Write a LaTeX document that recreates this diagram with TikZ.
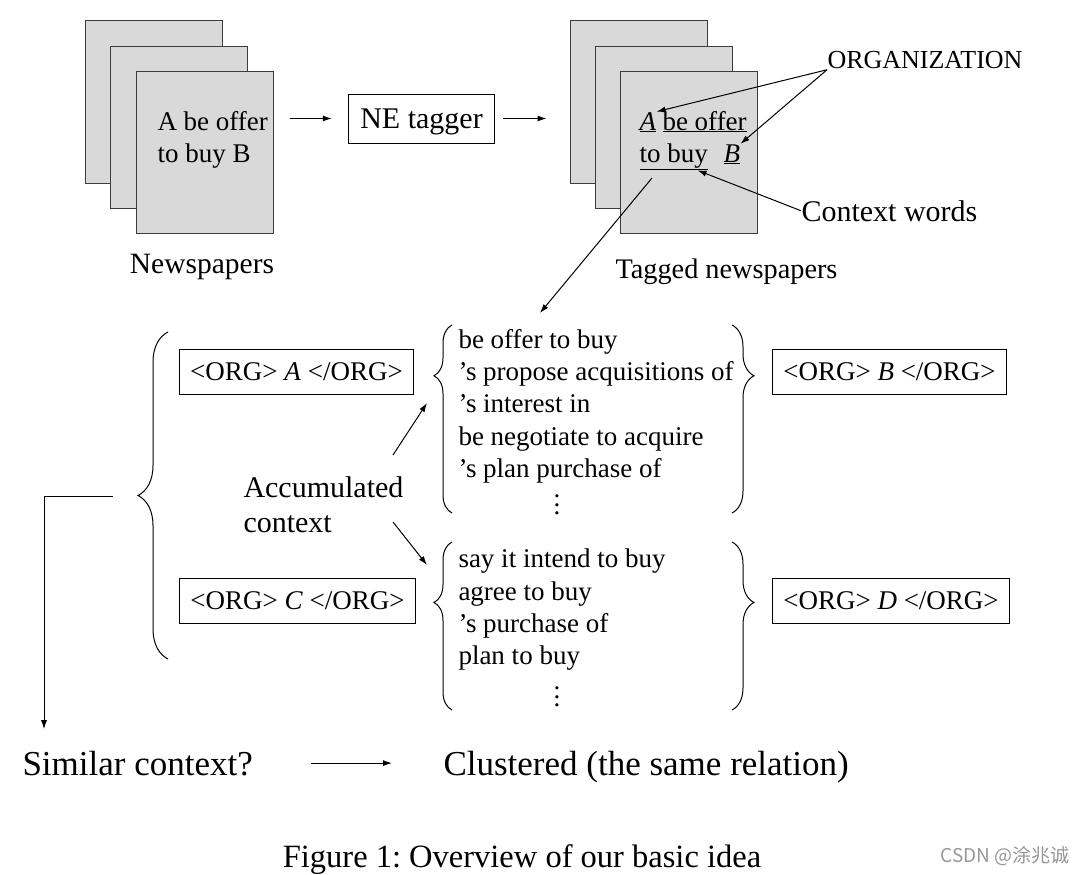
\documentclass[tikz,border=0pt]{standalone}
\usepackage{fontspec}
\setmainfont{Liberation Serif}
\newfontfamily\cjkfont{Noto Sans CJK SC}
\usetikzlibrary{arrows.meta,decorations.pathreplacing}

\definecolor{pagefill}{RGB}{217,217,217}
\definecolor{pageline}{RGB}{60,60,60}
\definecolor{markgray}{RGB}{150,150,150}

\newcommand{\fsize}[2]{\fontsize{#1}{#2}\selectfont}
\newcommand{\colvdots}{\vbox{\baselineskip8.5pt\lineskiplimit0pt\hbox{.}\hbox{.}\hbox{.}}}
\frenchspacing

\tikzset{
	page/.style={draw=pageline, fill=pagefill, minimum width=137pt, minimum height=162pt, inner sep=0pt},
	tagbox/.style={draw, minimum height=45pt, inner xsep=11pt, font=\fsize{27}{32}},
	txt/.style={inner sep=0pt, anchor=base west},
	arr/.style={-{Latex[length=9pt,width=6pt]}},
	brc/.style n args={2}{decorate, decoration={brace, amplitude=#1, aspect=#2}},
}

\begin{document}
\begin{tikzpicture}[x=1pt,y=-1pt,line width=1pt]
	
	\useasboundingbox (0,0) rectangle (1087,875);
	
	% newspapers
	\node[page] (p1a) at (153.5,102) {};
	\node[page] (p1b) at (179,127.5) {};
	\node[page] (p1c) at (204.5,152.5) {};
	
	\node[txt, font=\fsize{27}{32}] (raw1) at (157,130) {A be offer};
	\node[txt, font=\fsize{27}{32}] (raw2) at (157,162) {to buy B};
	
	\node[inner sep=0pt, anchor=base, font=\fsize{29.5}{35}] (news) at (202,273) {Newspapers};
	
	\node[draw, minimum height=49pt, inner xsep=12pt, text depth=0pt, font=\fsize{30}{36}] (ne) at (421.5,118.5) {NE tagger};
	
	% tagged newspapers
	\node[page] (p2a) at (638.5,102) {};
	\node[page] (p2b) at (664,127.5) {};
	\node[page] (p2c) at (689,152.5) {};
	
	\node[txt, font=\fsize{27}{32}] (tA) at (639,130) {\underline{\textit{A}}};
	\node[txt, font=\fsize{27}{32}] (tBe) at (662,130) {\underline{be offer}};
	\node[txt, font=\fsize{27}{32}] (tTo) at (639,162) {\underline{to buy}};
	\node[txt, font=\fsize{27}{32}] (tB) at (723,162) {\underline{\textit{B}}};
	
	\node[inner sep=0pt, anchor=base, font=\fsize{28.3}{34}] (tagged) at (726.5,278) {Tagged newspapers};
	
	\node[txt, font=\fsize{26}{31}] (org) at (827,69) {ORGANIZATION};
	\node[txt, font=\fsize{30}{36}] (ctx) at (801,221) {Context words};
	
	\draw[arr, shorten <=16pt, shorten >=16pt] (p1c.east |- ne.west) -- (ne.west);
	\draw[arr, shorten <=8pt, shorten >=23pt] (ne.east) -- (p2a.west |- ne.east);
	\draw[arr] (org.south west) -- (tA.north east);
	\draw[arr] (org.south west) -- (tB.north east);
	\draw[arr] (ctx.west) -- (tTo.-30);
	
	% accumulated contexts
	\draw[brc={30}{0.5}] (168,659) -- (168,332);
	\coordinate (bigtip) at (138,496);
	
	\node[tagbox] (orgA) at (296.5,371.5) {<ORG> \textit{A} </ORG>};
	\node[tagbox] (orgC) at (297.5,601) {<ORG> \textit{C} </ORG>};
	\node[tagbox] (orgB) at (889.5,372) {<ORG> \textit{B} </ORG>};
	\node[tagbox] (orgD) at (891,600.5) {<ORG> \textit{D} </ORG>};
	
	\node[inner sep=0pt, anchor=north west, align=left, font=\fsize{27}{32.3}] (ctxA) at (458,328.6)
	{be offer to buy\\'s propose acquisitions of\\'s interest in\\be negotiate to acquire\\'s plan purchase of};
	\node[inner sep=0pt, font=\fsize{27}{32}] (dotsA) at (557,505) {\colvdots};
	
	\node[inner sep=0pt, anchor=north west, align=left, font=\fsize{27}{32.3}] (ctxC) at (458,548.6)
	{say it intend to buy\\agree to buy\\'s purchase of\\plan to buy};
	\node[inner sep=0pt, font=\fsize{27}{32}] (dotsC) at (557,697) {\colvdots};
	
	\draw[brc={18}{0.73}] (452,513) -- (452,325);
	\draw[brc={22}{0.27}] (732,325) -- (732,513);
	\draw[brc={18}{0.64}] (452,710) -- (452,542);
	\draw[brc={22}{0.36}] (732,542) -- (732,710);
	
	\node[inner sep=0pt, anchor=north west, align=left, font=\fsize{30}{35}] (acc) at (243,476.5) {Accumulated\\context};
	
	\coordinate (accUp) at (393,455);
	\coordinate (accDown) at (393,522);
	\coordinate (tipA) at (427,403);
	\coordinate (tipC) at (427,565);
	\draw[arr] (accUp) -- (tipA);
	\draw[arr] (accDown) -- (tipC);
	
	\coordinate (tagFrom) at (652,178);
	\coordinate (tagTo) at (540,313);
	\draw[arr] (tagFrom) -- (tagTo);
	
	% result
	\node[txt, font=\fsize{35}{42}] (sim) at (22,775) {Similar context?};
	\node[txt, font=\fsize{35}{42}] (clus) at (443,775) {Clustered (the same relation)};
	
	\coordinate (bend) at (44,497);
	\draw[arr, shorten <=25pt, shorten >=21pt] (bigtip) -| (bend |- sim.north);
	\draw[arr, shorten <=58pt, shorten >=51pt] (sim.east) -- (sim.east -| clus.west);
	
	\node[inner sep=0pt, anchor=base, font=\fsize{32.5}{39}] (cap) at (522,867) {Figure 1: Overview of our basic idea};
	\node[txt, font=\cjkfont\fsize{19}{23}, text=markgray] (mark) at (940,862) {CSDN @涂兆诚};
	
\end{tikzpicture}
\end{document}
